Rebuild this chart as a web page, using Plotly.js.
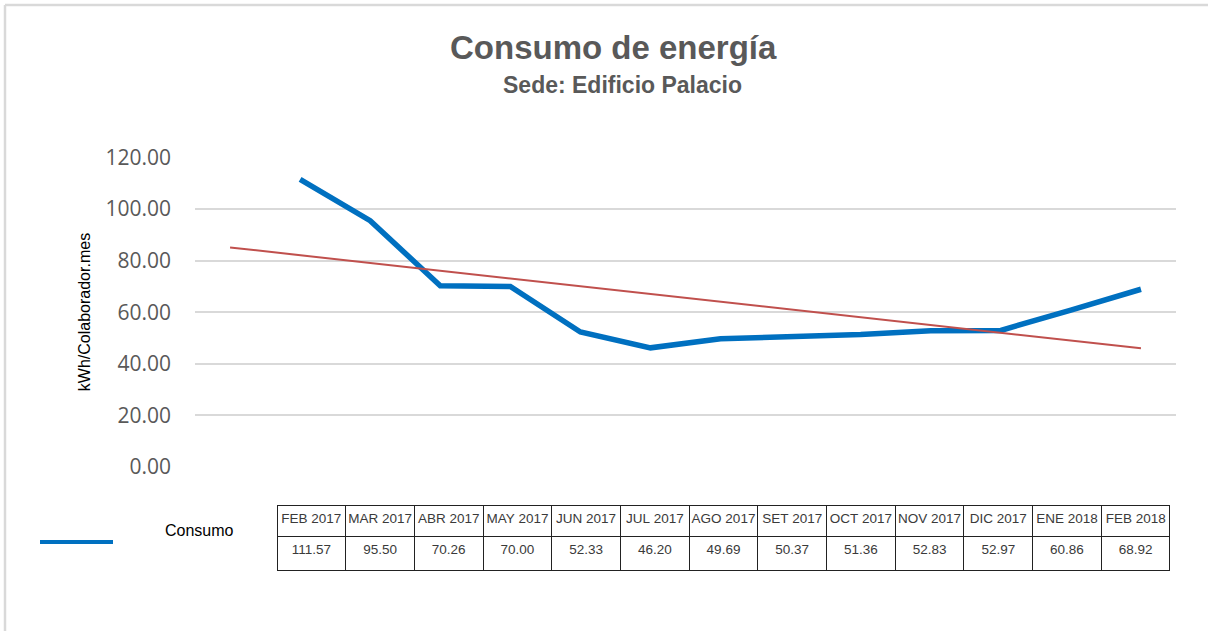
<!DOCTYPE html>
<html>
<head>
<meta charset="utf-8">
<script src="https://cdn.plot.ly/plotly-3.0.1.min.js"></script>
<style>
  html, body { margin: 0; padding: 0; background: #ffffff; }
  #chart { width: 1208px; height: 631px; }
</style>
</head>
<body>
<div id="chart"></div>
<script>
// ---- data ----
const categories = [" ", "FEB 2017", "MAR 2017", "ABR 2017", "MAY 2017", "JUN 2017", "JUL 2017",
  "AGO 2017", "SET 2017", "OCT 2017", "NOV 2017", "DIC 2017", "ENE 2018", "FEB 2018"];
const months = categories.slice(1);
const consumo = [111.57, 95.50, 70.26, 70.00, 52.33, 46.20, 49.69, 50.37, 51.36, 52.83, 52.97, 60.86, 68.92];
// linear trend line endpoints
const trendX = [" ", "FEB 2018"];
const trendY = [85.13, 46.01];
const yTicks = [0, 20, 40, 60, 80, 100, 120];

// pixel -> paper helpers (layout geometry)
const W = 1208, H = 631, ML = 195, MR = 32, MT = 157, MB = 40;
const PW = W - ML - MR, PH = H - MT - MB;
const px = v => (v - ML) / PW;
const py = v => (H - MB - v) / PH;

const tableFont = { family: "Liberation Sans Narrow, Arial Narrow, Liberation Sans, Arial, sans-serif", size: 13.5, color: "#3a3a3a" };

const traces = [
  {
    type: "scatter", mode: "lines", x: months, y: consumo, name: "Consumo",
    line: { color: "#0070C0", width: 5.5 }, showlegend: false, hoverinfo: "x+y"
  },
  {
    type: "scatter", mode: "lines", x: trendX, y: trendY, name: "Lineal (Consumo)",
    line: { color: "#C0504D", width: 2 }, showlegend: false, hoverinfo: "skip"
  },
  {
    type: "table",
    domain: { x: [px(277), px(1170)], y: [py(573), py(505)] },
    columnwidth: months.map(() => 1),
    header: {
      values: months.map(m => m.replace(" ", "\u00a0")),
      height: 31,
      align: "center",
      line: { color: "#222222", width: 1 },
      fill: { color: "#ffffff" },
      font: tableFont
    },
    cells: {
      values: consumo.map(v => [v.toFixed(2)]),
      height: 34,
      align: "center",
      line: { color: "#222222", width: 1 },
      fill: { color: "#ffffff" },
      font: tableFont
    }
  }
];

const layout = {
  width: W, height: H,
  margin: { l: ML, r: MR, t: MT, b: MB },
  paper_bgcolor: "#ffffff", plot_bgcolor: "#ffffff",
  showlegend: false,
  xaxis: {
    type: "category", categoryorder: "array", categoryarray: categories,
    range: [-0.5, categories.length - 0.5],
    showgrid: false, showticklabels: false, showline: false, zeroline: false, ticks: "",
    fixedrange: true
  },
  yaxis: {
    domain: [py(467), 1],
    range: [0, 120.2],
    tickvals: yTicks,
    tickformat: ".2f",
    showgrid: true, gridcolor: "#d9d9d9", gridwidth: 1.5,
    zeroline: false, showline: false, ticks: "",
    ticklabelstandoff: 23,
    tickfont: { family: "Open Sans, Noto Sans, sans-serif", size: 21, color: "#595959" },
    title: {
      text: "kWh/Colaborador.mes",
      font: { family: "Liberation Sans, Arial, sans-serif", size: 16, color: "#000000" },
      standoff: 10
    },
    fixedrange: true
  },
  annotations: [
    {
      text: "<b>Consumo de energía</b>", xref: "paper", yref: "paper",
      x: px(613), y: py(47), xanchor: "center", yanchor: "middle", showarrow: false,
      font: { family: "Liberation Sans, Arial, sans-serif", size: 33, color: "#595959" }
    },
    {
      text: "<b>Sede: Edificio Palacio</b>", xref: "paper", yref: "paper",
      x: px(622), y: py(85), xanchor: "center", yanchor: "middle", showarrow: false,
      font: { family: "Liberation Sans, Arial, sans-serif", size: 23, color: "#595959" }
    },
    {
      text: "Consumo", xref: "paper", yref: "paper",
      x: px(199), y: py(530), xanchor: "center", yanchor: "middle", showarrow: false,
      font: { family: "Liberation Sans, Arial, sans-serif", size: 16, color: "#000000" }
    }
  ],
  shapes: [
    // legend key
    { type: "line", xref: "paper", yref: "paper", x0: px(40), x1: px(113), y0: py(542), y1: py(542),
      line: { color: "#0070C0", width: 4 } },
    // outer frame (top and left)
    { type: "line", xref: "paper", yref: "paper", x0: px(5), x1: px(1210), y0: py(5), y1: py(5),
      line: { color: "#d9d9d9", width: 2.5 } },
    { type: "line", xref: "paper", yref: "paper", x0: px(5), x1: px(5), y0: py(5), y1: py(640),
      line: { color: "#d9d9d9", width: 2.5 } }
  ]
};

Plotly.newPlot("chart", traces, layout, { displayModeBar: false });
</script>
</body>
</html>
